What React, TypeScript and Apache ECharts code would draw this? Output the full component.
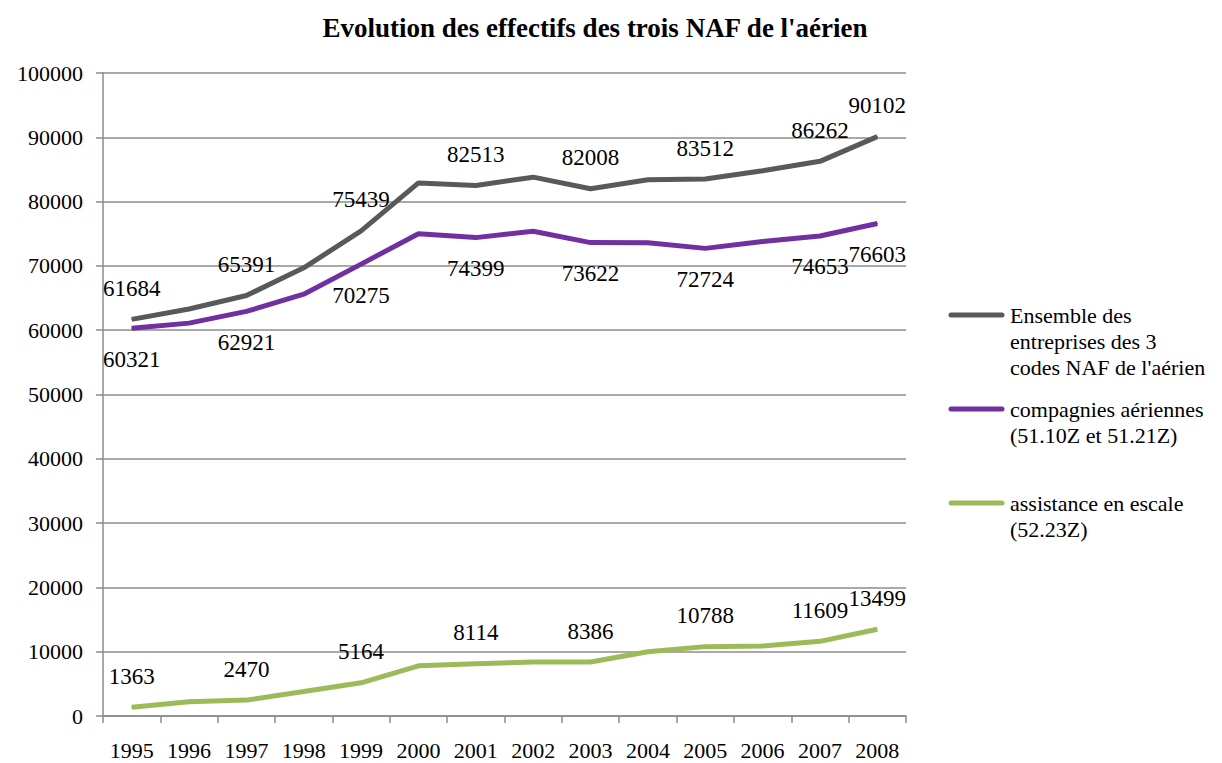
import React, { useEffect, useRef } from "react";
import * as echarts from "echarts";

const years = ["1995", "1996", "1997", "1998", "1999", "2000", "2001", "2002", "2003", "2004", "2005", "2006", "2007", "2008"];
const ensemble = [61684, 63300, 65391, 69700, 75439, 82900, 82513, 83800, 82008, 83400, 83512, 84800, 86262, 90102];
const compagnies = [60321, 61100, 62921, 65600, 70275, 75000, 74399, 75400, 73622, 73600, 72724, 73800, 74653, 76603];
const assistance = [1363, 2200, 2470, 3800, 5164, 7800, 8114, 8400, 8386, 10000, 10788, 10900, 11609, 13499];
const labeledIdx = [0, 2, 4, 6, 8, 10, 12, 13];
const seriesNames = [
  "Ensemble des entreprises des 3 codes NAF de l'aérien",
  "compagnies aériennes (51.10Z et 51.21Z)",
  "assistance en escale (52.23Z)",
];
const legendTexts = [
  "Ensemble des\nentreprises des 3\ncodes NAF de l'aérien",
  "compagnies aériennes\n(51.10Z et 51.21Z)",
  "assistance en escale\n(52.23Z)",
];
const colors = ["#595959", "#7030A0", "#9BBB59"];
const title = "Evolution des effectifs des trois NAF de l'aérien";

const FONT = "Liberation Serif";

export default function App() {
  const ref = useRef<HTMLDivElement>(null);
  useEffect(() => {
    if (!ref.current) return;
    const chart = echarts.init(ref.current, undefined, { renderer: "svg" });
    const mkData = (vals: number[], pos: "top" | "bottom") =>
      vals.map((v, i) => ({
        value: v,
        label: { show: labeledIdx.includes(i), position: pos },
      }));
    const dataSets = [mkData(ensemble, "top"), mkData(compagnies, "bottom"), mkData(assistance, "top")];
    const legendTops = [302, 396, 490];
    const graphic: any[] = [];
    legendTexts.forEach((t, i) => {
      graphic.push({
        type: "line",
        shape: { x1: 951, y1: legendTops[i] + 13, x2: 1002, y2: legendTops[i] + 13 },
        style: { stroke: colors[i], lineWidth: 5, lineCap: "round" },
      });
      graphic.push({
        type: "text",
        x: 1010,
        y: legendTops[i],
        style: {
          text: t,
          fill: "#000",
          fontFamily: FONT,
          fontWeight: "normal",
          fontSize: 22,
          lineHeight: 26,
          verticalAlign: "top",
        },
      });
    });
    chart.setOption({
      animation: false,
      backgroundColor: "#fff",
      title: {
        text: title,
        left: 590,
        textAlign: "center",
        top: 9,
        textStyle: { fontFamily: FONT, fontWeight: "bold", fontSize: 27, color: "#000" },
      },
      grid: { left: 103, right: 316, top: 73, bottom: 47, containLabel: false },
      xAxis: {
        type: "category",
        data: years,
        boundaryGap: true,
        axisLine: { lineStyle: { color: "#8c8c8c", width: 1.5 } },
        axisTick: { show: true, length: 7, lineStyle: { color: "#8c8c8c", width: 1.5 } },
        axisLabel: { color: "#000", fontFamily: FONT, fontSize: 22, margin: 23, interval: 0 },
      },
      yAxis: {
        type: "value",
        min: 0,
        max: 100000,
        interval: 10000,
        axisLine: { show: true, lineStyle: { color: "#8c8c8c", width: 1.5 } },
        axisTick: { show: true, length: 7, lineStyle: { color: "#8c8c8c", width: 1.5 } },
        splitLine: { lineStyle: { color: "#8c8c8c", width: 1.5 } },
        axisLabel: {
          color: "#000",
          fontFamily: FONT,
          fontSize: 22,
          margin: 20,
          formatter: (v: number) => String(v),
        },
      },
      series: dataSets.map((d, i) => ({
        name: seriesNames[i],
        type: "line",
        data: d,
        symbol: "circle",
        symbolSize: 1,
        showSymbol: true,
        itemStyle: { color: colors[i] },
        lineStyle: { color: colors[i], width: 5 },
        label: {
          distance: 19,
          color: "#000",
          fontFamily: FONT,
          fontSize: 23,
        },
      })),
      graphic,
    });
    return () => chart.dispose();
  }, []);
  return (
    <div
      ref={ref}
      style={{ position: "fixed", left: 0, top: 0, width: 1222, height: 763 }}
    />
  );
}
